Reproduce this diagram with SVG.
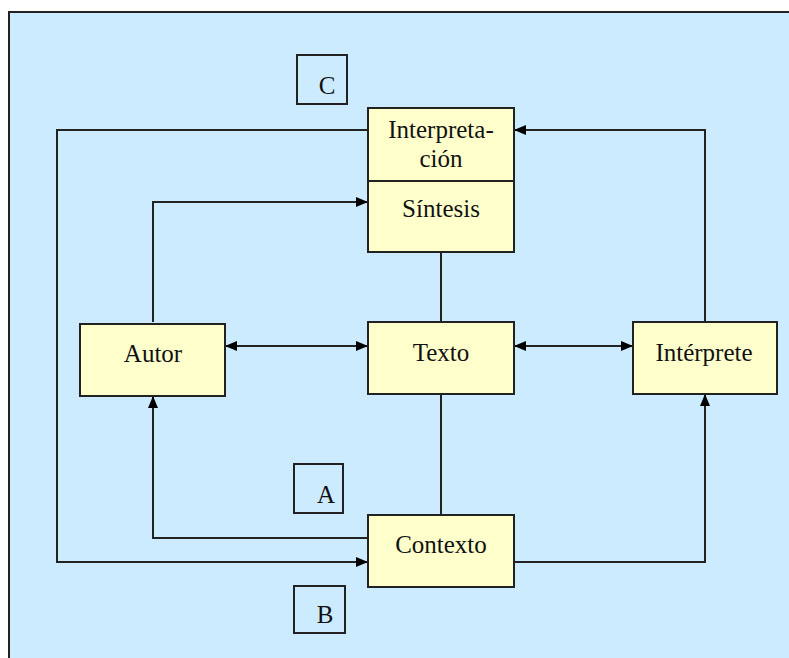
<svg xmlns="http://www.w3.org/2000/svg" width="789" height="658" viewBox="0 0 789 658">
<style>
.bg{fill:#CCEBFF}
.node rect{fill:#FFFFCC;stroke:#222;stroke-width:2}
.lbl rect{fill:none;stroke:#222;stroke-width:2}
text{font-family:"Liberation Serif","DejaVu Serif",serif;font-size:25px;fill:#111;text-anchor:middle}
.conn path{fill:none;stroke:#222;stroke-width:2}
</style>
<defs>
<marker id="ah" viewBox="0 0 12 10" refX="12" refY="5" markerWidth="12" markerHeight="10" markerUnits="userSpaceOnUse" orient="auto-start-reverse">
<path d="M0,0 L12,5 L0,10 Z" fill="#000"/>
</marker>
</defs>
<rect class="bg" x="9" y="12" width="780" height="646"/>
<path d="M9,658 V12 H789" fill="none" stroke="#222" stroke-width="2"/>
<g class="conn">
<path d="M368,130 H57 V562 H368" marker-end="url(#ah)"/>
<path d="M153,322 V202 H368" marker-end="url(#ah)"/>
<path d="M705,322 V130 H514" marker-end="url(#ah)"/>
<path d="M441,252 V322"/>
<path d="M225,346 H368" marker-start="url(#ah)" marker-end="url(#ah)"/>
<path d="M514,346 H633" marker-start="url(#ah)" marker-end="url(#ah)"/>
<path d="M441,394 V515"/>
<path d="M368,538 H153 V396" marker-end="url(#ah)"/>
<path d="M514,562 H705 V394" marker-end="url(#ah)"/>
</g>
<g id="interpretacion" class="node">
<rect x="368" y="108" width="146" height="73"/>
<text x="441" y="138">Interpreta-</text>
<text x="441" y="167">ción</text>
</g>
<g id="sintesis" class="node">
<rect x="368" y="181" width="146" height="71"/>
<text x="441" y="217">Síntesis</text>
</g>
<g id="autor" class="node">
<rect x="80" y="324" width="145" height="72"/>
<text x="153" y="362">Autor</text>
</g>
<g id="texto" class="node">
<rect x="368" y="322" width="146" height="72"/>
<text x="441" y="361">Texto</text>
</g>
<g id="interprete" class="node">
<rect x="633" y="322" width="144" height="72"/>
<text x="704" y="361">Intérprete</text>
</g>
<g id="contexto" class="node">
<rect x="368" y="515" width="146" height="72"/>
<text x="441" y="553">Contexto</text>
</g>
<g id="labelC" class="lbl">
<rect x="297" y="55" width="50" height="49"/>
<text x="327" y="94">C</text>
</g>
<g id="labelA" class="lbl">
<rect x="294" y="464" width="49" height="49"/>
<text x="326" y="503">A</text>
</g>
<g id="labelB" class="lbl">
<rect x="294" y="586" width="51" height="47"/>
<text x="325" y="623">B</text>
</g>
</svg>
